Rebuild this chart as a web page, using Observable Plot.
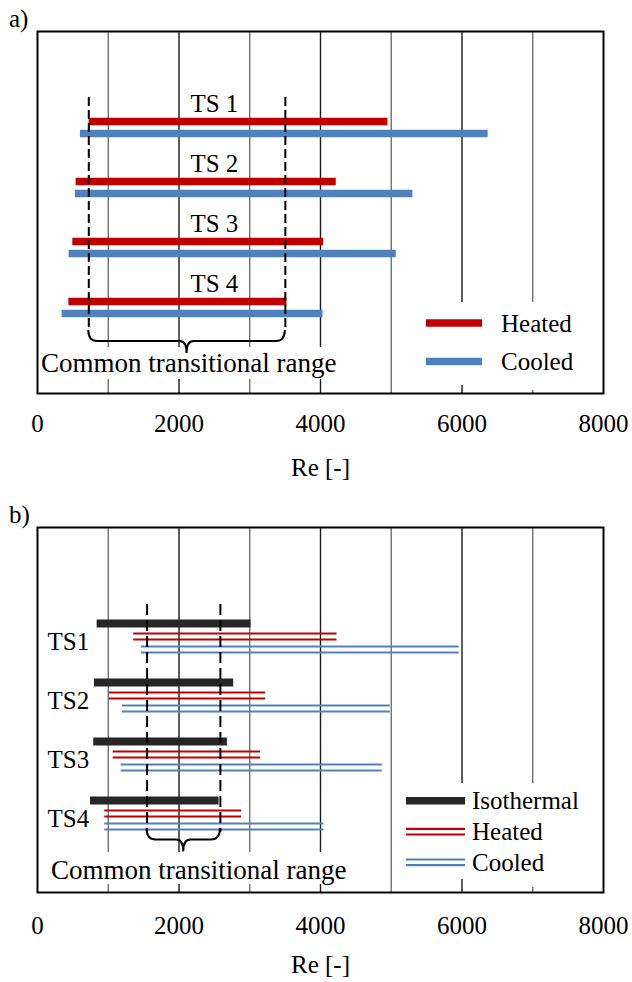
<!DOCTYPE html>
<html><head><meta charset="utf-8">
<script src="https://cdn.jsdelivr.net/npm/d3@7"></script>
<script src="https://cdn.jsdelivr.net/npm/@observablehq/plot@0.6"></script>
<style>
body{margin:0;background:#fff;}
#wrap{position:relative;width:632px;height:982px;overflow:hidden;}
#pa{position:absolute;left:0;top:0}
#pb{position:absolute;left:0;top:495px}
#wrap svg{display:block}
</style></head><body>
<div id="wrap"><div id="pa"></div><div id="pb"></div></div>
<script>
// ---------- data ----------
const xTicks = [0, 2000, 4000, 6000, 8000];
const gridValues = [1000, 2000, 3000, 4000, 5000, 6000, 7000];

// panel a)
const rowsA = ["TS 1", "TS 2", "TS 3", "TS 4"];
const heatedStartA = [730, 546, 499, 443];
const heatedEndA   = [4953, 4223, 4044, 3526];
const cooledStartA = [607, 537, 447, 348];
const cooledEndA   = [6370, 5306, 5071, 4035];
const commonA = [725, 3503];

// panel b)
const rowsB = ["TS1", "TS2", "TS3", "TS4"];
const isoStartB    = [843, 805, 795, 749];
const isoEndB      = [3018, 2773, 2684, 2566];
const heatedStartB = [1360, 1017, 1069, 951];
const heatedEndB   = [4233, 3225, 3154, 2886];
const cooledStartB = [1469, 1201, 1182, 951];
const cooledEndB   = [5960, 4986, 4873, 4049];
const commonB = [1549, 2585];

const commonLabel = "Common transitional range";
const axisLabel = "Re [-]";

// ---------- style ----------
const FONT = "'Liberation Serif', 'Times New Roman', serif";
const RED = "#c00000", BLUE = "#4f81bd", ISO = "#262626";
const gridStroke = d => ((d / 1000) % 2 ? "#707070" : "#1a1a1a");

const tableA = rowsA.map((ts, i) => ({ts, hs: heatedStartA[i], he: heatedEndA[i], cs: cooledStartA[i], ce: cooledEndA[i]}));
const tableB = rowsB.map((ts, i) => ({ts, is: isoStartB[i], ie: isoEndB[i], hs: heatedStartB[i], he: heatedEndB[i], cs: cooledStartB[i], ce: cooledEndB[i]}));

// grid lines, interrupted where the label / legend boxes sit
function grid(groups) {
  const marks = [];
  for (const g of groups) {
    const vals = gridValues.filter(g.test);
    if (g.full) marks.push(Plot.ruleX(vals, {stroke: gridStroke, strokeWidth: 1.4}));
    else {
      marks.push(Plot.ruleX(vals, {stroke: gridStroke, strokeWidth: 1.4, insetBottom: g.insetBottom}));
      marks.push(Plot.ruleX(vals, {stroke: gridStroke, strokeWidth: 1.4, insetTop: g.insetTop}));
    }
  }
  return marks;
}

function brace(common, yb, r, tip) {
  return (index, scales) => {
    const x1 = scales.x(common[0]), x2 = scales.x(common[1]);
    const xm = (x1 + x2) / 2;
    const g = d3.create("svg:g").attr("fill", "none").attr("stroke", "black").attr("stroke-width", 2);
    g.append("path").attr("d",
      `M${x1},${yb - r - 2} Q${x1},${yb} ${x1 + r},${yb} L${xm - 7},${yb} Q${xm},${yb} ${xm},${yb + tip}` +
      `M${x2},${yb - r - 2} Q${x2},${yb} ${x2 - r},${yb} L${xm + 7},${yb} Q${xm},${yb} ${xm},${yb + tip}`);
    return g.node();
  };
}

function label(t) {
  return () => {
    const g = d3.create("svg:g");
    g.append("text").attr("x", t.x).attr("y", t.y).attr("dy", "0.34em").attr("text-anchor", "start")
      .attr("font-family", FONT).attr("font-size", t.size || 25).attr("fill", "black").text(t.text);
    return g.node();
  };
}

function legend(items, x1, x2) {
  return () => {
    const g = d3.create("svg:g");
    for (const it of items) {
      if (it.double) {
        g.append("line").attr("x1", x1).attr("x2", x2).attr("y1", it.y - 2.8).attr("y2", it.y - 2.8).attr("stroke", it.color).attr("stroke-width", 2.2);
        g.append("line").attr("x1", x1).attr("x2", x2).attr("y1", it.y + 2.8).attr("y2", it.y + 2.8).attr("stroke", it.color).attr("stroke-width", 2.2);
      } else {
        g.append("line").attr("x1", x1).attr("x2", x2).attr("y1", it.y).attr("y2", it.y).attr("stroke", it.color).attr("stroke-width", 7.5);
      }
      g.append("text").attr("x", it.tx).attr("y", it.y).attr("dy", "0.34em").attr("text-anchor", "start")
        .attr("font-family", FONT).attr("font-size", 25).attr("fill", "black").text(it.label);
    }
    return g.node();
  };
}

const common = {
  width: 632,
  marginLeft: 37,
  marginRight: 29,
  style: {fontFamily: FONT, fontSize: "25px", color: "black", background: "white", overflow: "visible"},
};
const xOpts = pad => ({domain: [0, 8000], ticks: xTicks, tickSize: 0, tickPadding: pad, label: null, tickFormat: d => String(d)});

// ---------- panel a ----------
const plotA = Plot.plot({
  ...common,
  height: 495,
  marginTop: 31,
  marginBottom: 102,
  x: xOpts(21),
  y: {type: "point", domain: rowsA, range: [126, 307], padding: 0, axis: null},
  marks: [
    ...grid([
      {test: d => d <= 4000, insetBottom: 46, insetTop: 348},
      {test: d => d === 5000, full: true},
      {test: d => d === 6000, insetBottom: 91, insetTop: 354},
      {test: d => d === 7000, insetBottom: 91, insetTop: 359}
    ]),
    Plot.ruleY(tableA, {y: "ts", x1: "hs", x2: "he", stroke: RED, strokeWidth: 7.5, dy: -6}),
    Plot.ruleY(tableA, {y: "ts", x1: "cs", x2: "ce", stroke: BLUE, strokeWidth: 7.5, dy: 6}),
    Plot.ruleX(commonA, {stroke: "black", strokeWidth: 2, strokeDasharray: "9,4", insetTop: 66, insetBottom: 64}),
    brace(commonA, 341, 9, 12),
    Plot.text(tableA, {x: () => 2500, y: "ts", text: "ts", dy: -24, fontSize: 25}),
    Plot.text([axisLabel], {frameAnchor: "bottom", dy: 82, fontSize: 25}),
    label({x: 41, y: 363, text: commonLabel, size: 27}),
    legend([{y: 323, color: RED, label: "Heated", tx: 501}, {y: 361.5, color: BLUE, label: "Cooled", tx: 501}], 426, 482),
    label({x: 9, y: 18, text: "a)"}),
    Plot.frame({stroke: "black", strokeWidth: 2})
  ]
});
document.getElementById("pa").appendChild(plotA);

// ---------- panel b ----------
const plotB = Plot.plot({
  ...common,
  height: 487,
  marginTop: 32,
  marginBottom: 90,
  x: xOpts(24),
  y: {type: "point", domain: rowsB, range: [140.7, 318.3], padding: 0, axis: null},
  marks: [
    ...grid([
      {test: d => d <= 4000, insetBottom: 40, insetTop: 357},
      {test: d => d === 5000, full: true},
      {test: d => d === 6000, insetBottom: 109, insetTop: 352},
      {test: d => d === 7000, insetBottom: 109, insetTop: 360}
    ]),
    Plot.ruleY(tableB, {y: "ts", x1: "is", x2: "ie", stroke: ISO, strokeWidth: 8, dy: -13}),
    Plot.ruleY(tableB, {y: "ts", x1: "hs", x2: "he", stroke: RED, strokeWidth: 2.2, dy: -3}),
    Plot.ruleY(tableB, {y: "ts", x1: "hs", x2: "he", stroke: RED, strokeWidth: 2.2, dy: 3}),
    Plot.ruleY(tableB, {y: "ts", x1: "cs", x2: "ce", stroke: BLUE, strokeWidth: 2.2, dy: 10}),
    Plot.ruleY(tableB, {y: "ts", x1: "cs", x2: "ce", stroke: BLUE, strokeWidth: 2.2, dy: 16}),
    Plot.ruleX(commonB, {stroke: "black", strokeWidth: 2, strokeDasharray: "11,5", insetTop: 77, insetBottom: 60}),
    brace(commonB, 344.5, 9, 12),
    Plot.text(tableB, {x: () => 141, y: "ts", text: "ts", dy: 5, textAnchor: "start", fontSize: 25}),
    Plot.text([axisLabel], {frameAnchor: "bottom", dy: 80, fontSize: 25}),
    label({x: 51, y: 375, text: commonLabel, size: 27}),
    legend([{y: 305.7, color: ISO, label: "Isothermal", tx: 472}, {y: 336.7, color: RED, label: "Heated", tx: 472, double: true}, {y: 367.3, color: BLUE, label: "Cooled", tx: 472, double: true}], 406, 465),
    label({x: 9, y: 19, text: "b)"}),
    Plot.frame({stroke: "black", strokeWidth: 2})
  ]
});
document.getElementById("pb").appendChild(plotB);
</script>
</body></html>
